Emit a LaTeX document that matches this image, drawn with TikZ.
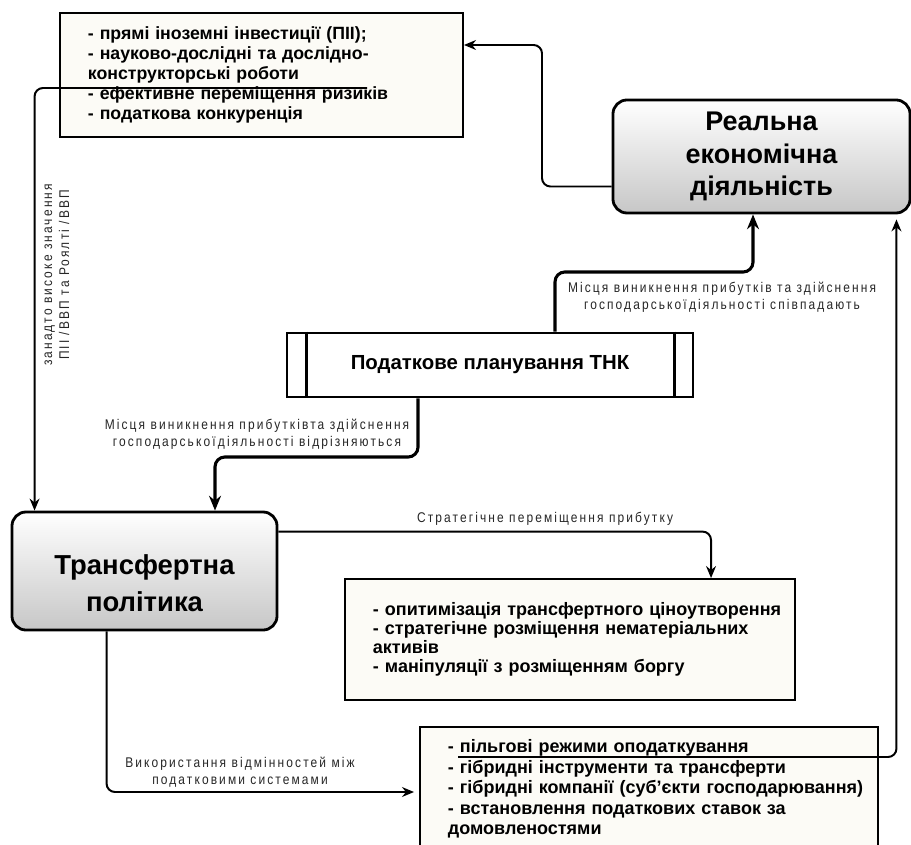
\documentclass[tikz,border=0pt]{standalone}
\usepackage{fontspec}
\setmainfont{Liberation Sans}
\newfontfamily\labelfont[FakeStretch=0.85, LetterSpace=15]{Liberation Sans}
\usepackage{xcolor}
\usepackage{tikz}
\usetikzlibrary{calc}
\usetikzlibrary{arrows.meta}
\definecolor{boxcream}{HTML}{FCFBF6}

\begin{document}
\begin{tikzpicture}[
x=0.025cm, y=-0.025cm,
listnode/.style={rectangle, draw=black, fill=boxcream, line width=1.3pt, inner sep=0pt, align=left},
mainnode/.style={rectangle, rounded corners=10pt, draw=black, line width=2pt, top color=white, bottom color=black!22, inner sep=0pt, align=center},
procnode/.style={rectangle, draw=black, fill=white, line width=1.8pt, inner sep=0pt, font=\fontsize{14.5}{16}\selectfont\bfseries},
labelnode/.style={align=center, text=black!85, inner sep=0pt, font=\labelfont\fontsize{10}{12.1}\selectfont},
conn/.style={-{Stealth[length=8.5pt, width=7pt]}, line width=1.4pt, rounded corners=6pt},
thickconn/.style={-{Stealth[length=10.5pt, width=8.5pt]}, line width=2.2pt, rounded corners=7pt},
]
\useasboundingbox[fill=white] (0,0) rectangle (911,845);

%Nodes
\node[listnode, minimum width=10.075cm, minimum height=3.1cm, text width=8.675cm,
      font=\fontsize{12.6}{14.1}\selectfont\bfseries]	(topbox)	at (261.5,75)
      {- прямі іноземні інвестиції (ПІІ);\\
       - науково-дослідні та дослідно-\\
       конструкторські роботи\\
       - ефективне переміщення ризиків\\
       - податкова конкуренція};
\node[mainnode, minimum width=7.425cm, minimum height=2.825cm,
      font=\fontsize{19.2}{23.1}\selectfont\bfseries]	(real)	at (761.5,156.5)
      {Реальна\\економічна\\діяльність};
\node[procnode, minimum width=10.15cm, minimum height=1.6cm]	(plan)	at (490,365)
      {Податкове планування ТНК};
\node[mainnode, minimum width=6.625cm, minimum height=2.95cm,
      font=\fontsize{19.5}{26.3}\selectfont\bfseries]	(transfer)	at (144.5,571)
      {\rule{0pt}{31pt}Трансфертна\\політика};
\node[listnode, minimum width=11.25cm, minimum height=3.025cm, text width=9.85cm,
      font=\fontsize{12.8}{13.4}\selectfont\bfseries]	(mid)	at (570,639.5)
      {\mbox{- опитимізація трансфертного ціноутворення}\\
       \mbox{- стратегічне розміщення нематеріальних}\\
       активів\\
       \mbox{- маніпуляції з розміщенням боргу}};
\node[listnode, minimum width=11.45cm, minimum height=3.1cm, text width=10.05cm,
      font=\fontsize{12.8}{14.6}\selectfont\bfseries]	(bottom)	at (649,789)
      {\mbox{- пільгові режими оподаткування}\\
       \mbox{- гібридні інструменти та трансферти}\\
       \mbox{- гібридні компанії (суб’єкти господарювання)}\\
       \mbox{- встановлення податкових ставок за}\\
       домовленостями};

%Labels
\node[labelnode]	(lblsame)	at (722,297)
      {Місця виникнення прибутків та здійснення\\господарської\,діяльності співпадають};
\node[labelnode]	(lbldiff)	at (257,434)
      {Місця виникнення прибутківта здійснення\\господарської\,діяльності відрізняються};
\node[labelnode, rotate=90]	(lblvert)	at (57,275)
      {занадто високе значення\\ПІІ /ВВП та Роялті /ВВП};
\node[labelnode]	(lblstrat)	at (545,519)	{Стратегічне переміщення прибутку};
\node[labelnode]	(lbluse)	at (240,772)
      {Використання відмінностей між\\податковими системами};

%Bends
\coordinate (bend1) at (542,45);
\coordinate (bend2) at (753,272);
\coordinate (bend3) at (215,457);
\coordinate (start4) at (367,88);
\coordinate (start7) at (458,757);

%Inner edges of the process box
\draw[line width=1.8pt] ($(plan.north west)+(21,0)$) -- ($(plan.south west)+(21,0)$);
\draw[line width=1.8pt] ($(plan.north east)+(-20,0)$) -- ($(plan.south east)+(-20,0)$);

%Lines
\draw[conn] ($(real.west)+(0,30)$) -| (bend1) -- (topbox.east |- bend1);
\draw[thickconn] ($(plan.north)+(65,0)$) |- (bend2) -- (real.south -| bend2);
\draw[thickconn] ($(plan.south)+(-72,0)$) |- (bend3) -- (transfer.north -| bend3);
\draw[conn] (start4) -| ($(transfer.north west)+(24,0)$);
\draw[conn] ($(transfer.north east)+(0,21)$) -| ($(mid.north west)+(367,0)$);
\draw[conn] ($(transfer.south west)+(96,0)$) |- ($(bottom.west)+(-5,3)$);
\draw[conn] (start7) -| ($(real.south east)+(-15,5)$);
\end{tikzpicture}
\end{document}
